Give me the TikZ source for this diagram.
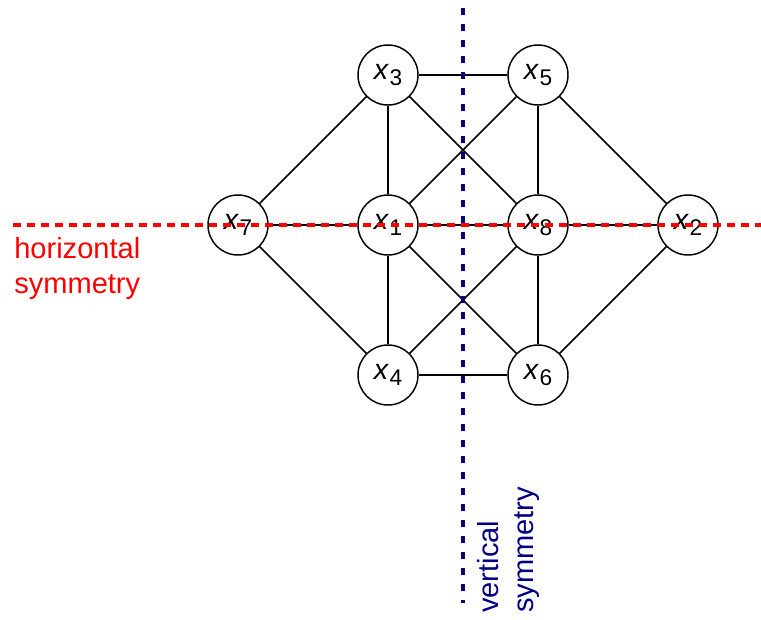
\documentclass[tikz,border=0pt]{standalone}
\usepackage{fontspec}
\setmainfont{Liberation Sans}
\newcommand{\xv}[1]{\textit{x}\kern0.02em\raisebox{-4pt}{\fontsize{17}{17}\selectfont #1}}
\begin{document}
\begin{tikzpicture}[x=0.75pt,y=-0.75pt,
  vtx/.style={circle,draw,line width=1.1pt,fill=white,minimum size=45pt,inner sep=0pt,font=\fontsize{21.5}{21.5}\selectfont},
  edge/.style={line width=1.1pt},
  hsym/.style={red,line width=3.2pt,dash pattern=on 6pt off 4.5pt},
  vsym/.style={navy,line width=3.6pt,dash pattern=on 5.5pt off 6.5pt},
  lbl/.style={font=\fontsize{21.8}{26.5}\selectfont,inner sep=0pt,align=left}]
\definecolor{navy}{RGB}{0,0,128}
\useasboundingbox (0,0) rectangle (761,619);
\node[vtx] (x3) at (388,75) {\xv{3}};
\node[vtx] (x5) at (538,75) {\xv{5}};
\node[vtx] (x7) at (238,225) {\xv{7}};
\node[vtx] (x1) at (388,225) {\xv{1}};
\node[vtx] (x8) at (538,225) {\xv{8}};
\node[vtx] (x2) at (688,225) {\xv{2}};
\node[vtx] (x4) at (388,375) {\xv{4}};
\node[vtx] (x6) at (538,375) {\xv{6}};
\draw[edge] (x3) -- (x5);
\draw[edge] (x3) -- (x7);
\draw[edge] (x3) -- (x1);
\draw[edge] (x3) -- (x8);
\draw[edge] (x5) -- (x1);
\draw[edge] (x5) -- (x8);
\draw[edge] (x5) -- (x2);
\draw[edge] (x7) -- (x1);
\draw[edge] (x1) -- (x8);
\draw[edge] (x8) -- (x2);
\draw[edge] (x7) -- (x4);
\draw[edge] (x1) -- (x4);
\draw[edge] (x1) -- (x6);
\draw[edge] (x8) -- (x4);
\draw[edge] (x8) -- (x6);
\draw[edge] (x2) -- (x6);
\draw[edge] (x4) -- (x6);
\coordinate (hl) at (13,225);
\coordinate (hr) at (761,225);
\coordinate (vt) at (463,8);
\coordinate (vb) at (463,603);
\draw[hsym] (hl) -- (hr);
\draw[vsym] (vt) -- (vb);
\node[lbl,red,anchor=north west] (hlab) at (14,237) {horizontal\\symmetry};
\node[lbl,navy,anchor=north west,rotate=90] (vlab) at (477,613) {vertical\\symmetry};
\end{tikzpicture}
\end{document}
